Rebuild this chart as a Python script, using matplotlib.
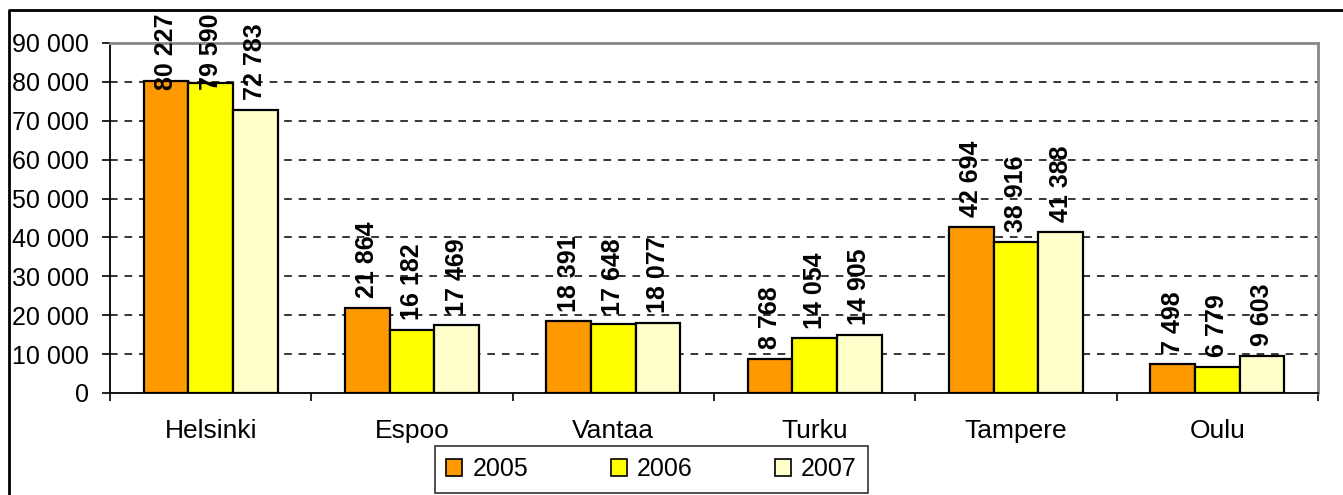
import matplotlib.pyplot as plt
import numpy as np
from matplotlib.lines import Line2D

# data
cities = ['Helsinki', 'Espoo', 'Vantaa', 'Turku', 'Tampere', 'Oulu']
years = ['2005', '2006', '2007']
v2005 = [80227, 21864, 18391, 8768, 42694, 7498]
v2006 = [79590, 16182, 17648, 14054, 38916, 6779]
v2007 = [72783, 17469, 18077, 14905, 41388, 9603]
colors = ['#FF9900', '#FFFF00', '#FFFFCC']
yticks = list(range(0, 90001, 10000))

plt.rcParams['font.family'] = ['Liberation Sans', 'DejaVu Sans']

W, H = 1343, 495
fig = plt.figure(figsize=(W / 100, H / 100), dpi=100)
ax = fig.add_axes([110 / W, 102 / H, (1318 - 110) / W, (393 - 43) / H])

x = np.arange(len(cities))
bw = 0.222
labels = []
for i, (vals, c, yr) in enumerate(zip([v2005, v2006, v2007], colors, years)):
    pos = x + (i - 1) * bw
    ax.bar(pos, vals, width=bw, color=c, edgecolor='black', linewidth=1.6,
           label=yr, zorder=3)
    for px, v in zip(pos, vals):
        t = ax.annotate(f'{v:,}'.replace(',', ' '), (px, v), xytext=(0, 7),
                        textcoords='offset points', rotation=90,
                        ha='center', va='bottom', fontsize=18,
                        fontweight='bold', zorder=4)
        labels.append(t)

ax.set_xlim(-0.5, len(cities) - 0.5)
ax.set_ylim(0, 90000)
ax.set_yticks(yticks)
ax.set_yticklabels([f'{v:,}'.replace(',', ' ') for v in yticks], fontsize=18)
ax.set_xticks(x)
ax.set_xticklabels(cities, fontsize=19)
ax.set_xticks(np.arange(-0.5, len(cities)), minor=True)
ax.tick_params(axis='x', which='major', length=0, pad=19)
ax.tick_params(axis='x', which='minor', length=6, width=1.2, direction='out')
ax.tick_params(axis='y', length=6, width=1.2, direction='out', pad=9)

for y in yticks[1:-1]:
    ax.axhline(y, color='black', linewidth=1.1, linestyle=(0, (5, 4.5)), zorder=1)

ax.spines['left'].set_linewidth(1.3)
ax.spines['bottom'].set_linewidth(1.3)
ax.spines['top'].set_color('#888888')
ax.spines['right'].set_color('#888888')
ax.spines['top'].set_linewidth(2)
ax.spines['right'].set_linewidth(2)

leg = fig.legend(loc='center', bbox_to_anchor=(651.5 / W, 25.5 / H), ncol=3,
                 fontsize=18, frameon=True, fancybox=False, edgecolor='black',
                 handlelength=0.65, handleheight=0.65, handletextpad=0.4,
                 columnspacing=3.3, borderpad=0.45)
leg.get_frame().set_linewidth(1.2)
for h in leg.legend_handles:
    h.set_linewidth(1.2)

# outer chart frame
fig.add_artist(Line2D([9 / W, 9 / W, 1.0], [0, 1 - 10 / H, 1 - 10 / H],
                      transform=fig.transFigure, color='black', linewidth=2))

# keep labels inside the chart area
fig.canvas.draw()
limit = H - 13
for t in labels:
    bb = t.get_window_extent()
    if bb.y1 > limit:
        dy = (bb.y1 - limit) * 72 / fig.dpi
        ox, oy = t.xyann
        t.xyann = (ox, oy - dy)

fig.savefig('out.png', dpi=100)
